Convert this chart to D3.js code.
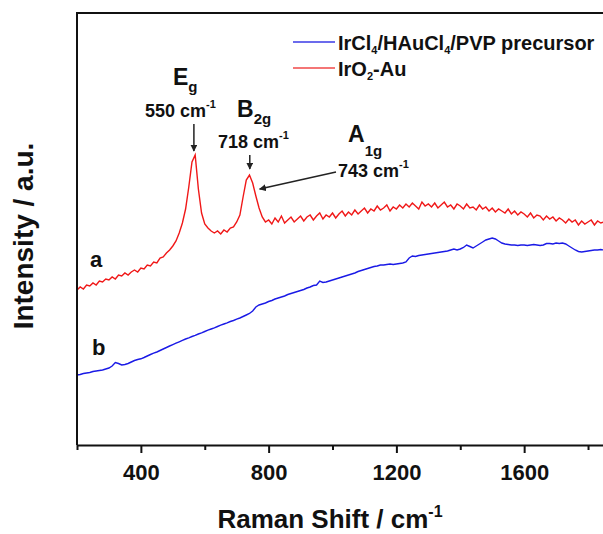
<!DOCTYPE html>
<html>
<head>
<meta charset="utf-8">
<script src="https://cdn.jsdelivr.net/npm/d3@7"></script>
<style>
  body { margin: 0; background: #fff; }
  svg { display: block; }
  text { font-family: "Liberation Sans", Arial, sans-serif; font-weight: bold; fill: #111; }
</style>
</head>
<body>
<div id="chart"></div>
<script>
const ramanShift = d3.range(200, 1851, 10);

// curve a : IrO2-Au
const intensityIrO2Au = [
  1550,1580,1560,1600,1590,1620,1600,1640,1630,1660,   // 200-290
  1650,1680,1660,1700,1690,1720,1700,1730,1750,1730,   // 300-390
  1770,1760,1800,1790,1830,1820,1870,1880,1920,1950,   // 400-490
  1990,2040,2120,2220,2360,2580,2830,2900,2560,2320,   // 500-590
  2210,2170,2140,2120,2140,2110,2150,2130,2170,2180,   // 600-690
  2230,2300,2480,2650,2700,2620,2490,2370,2280,2230,   // 700-790
  2250,2210,2270,2230,2290,2220,2250,2280,2230,2260,   // 800-890
  2290,2240,2280,2300,2250,2290,2320,2260,2300,2280,   // 900-990
  2320,2270,2310,2340,2290,2330,2300,2350,2310,2340,   // 1000-1090
  2370,2320,2360,2340,2390,2350,2370,2400,2340,2380,   // 1100-1190
  2360,2400,2370,2410,2380,2420,2390,2360,2430,2390,   // 1200-1290
  2410,2380,2420,2370,2400,2430,2380,2400,2360,2410,   // 1300-1390
  2390,2360,2410,2370,2380,2350,2400,2360,2380,2340,   // 1400-1490
  2370,2330,2360,2340,2320,2360,2310,2340,2300,2330,   // 1500-1590
  2310,2280,2320,2270,2300,2290,2250,2290,2260,2280,   // 1600-1690
  2240,2270,2250,2220,2260,2230,2250,2200,2240,2210,   // 1700-1790
  2230,2250,2200,2240,2220,2230                        // 1800-1850
];

// curve b : IrCl4/HAuCl4/PVP precursor
const intensityPrecursor = [
  700,705,715,720,725,735,740,745,750,760,             // 200-290
  770,790,825,815,800,805,815,830,845,855,             // 300-390
  862,875,890,905,918,930,945,960,975,990,             // 400-490
  1004,1018,1032,1046,1060,1072,1085,1097,1110,1122,   // 500-590
  1135,1148,1160,1172,1185,1198,1210,1222,1235,1245,   // 600-690
  1258,1270,1285,1300,1315,1340,1380,1400,1410,1420,   // 700-790
  1435,1445,1460,1470,1480,1490,1505,1515,1525,1535,   // 800-890
  1545,1555,1570,1580,1595,1600,1640,1625,1630,1640,   // 900-990
  1650,1660,1670,1680,1690,1700,1710,1720,1735,1745,   // 1000-1090
  1755,1765,1775,1785,1790,1800,1800,1805,1810,1805,   // 1100-1190
  1810,1815,1820,1830,1870,1890,1885,1895,1900,1905,   // 1200-1290
  1910,1915,1920,1925,1930,1935,1940,1950,1960,1950,   // 1300-1390
  1960,1975,2000,1985,1970,1990,2010,2030,2050,2060,   // 1400-1490
  2070,2060,2040,2020,2010,2005,2000,2000,1995,2000,   // 1500-1590
  2000,1995,2000,2005,2000,1995,2000,2015,2015,2010,   // 1600-1690
  2020,2015,2020,2010,1990,1970,1950,1935,1930,1935,   // 1700-1790
  1940,1945,1950,1950,1955,1950                        // 1800-1850
];

const xMajorTicks = [400, 800, 1200, 1600];
const xMinorTicks = [200, 600, 1000, 1400, 1800];

// peak positions as they sit in the figure
const peakShift = [566, 741, 775];

const width = 603, height = 534;
const plot = { left: 77, top: 13, right: 604, bottom: 445 };

const x = d3.scaleLinear().domain([200, 1850]).range([plot.left, plot.right]);
const y = d3.scaleLinear().domain([0, 4320]).range([plot.bottom, plot.top]);

const svg = d3.select("#chart").append("svg")
    .attr("width", width)
    .attr("height", height);

svg.append("defs").append("clipPath").attr("id", "clip")
  .append("rect")
    .attr("x", plot.left).attr("y", plot.top)
    .attr("width", plot.right - plot.left).attr("height", plot.bottom - plot.top);

svg.append("defs").append("marker")
    .attr("id", "head")
    .attr("viewBox", "0 0 10 10")
    .attr("refX", 9).attr("refY", 5)
    .attr("markerWidth", 7).attr("markerHeight", 7)
    .attr("markerUnits", "userSpaceOnUse")
    .attr("orient", "auto")
  .append("path")
    .attr("d", "M0,0L10,5L0,10Z")
    .attr("fill", "#222");

// spectra
const line = d3.line()
    .x((d, i) => x(ramanShift[i]))
    .y(d => y(d));

const lines = svg.append("g").attr("clip-path", "url(#clip)");

lines.append("path")
    .attr("d", line(intensityPrecursor))
    .attr("fill", "none")
    .attr("stroke", "#1a1ae6")
    .attr("stroke-width", 1.4);

lines.append("path")
    .attr("d", line(intensityIrO2Au))
    .attr("fill", "none")
    .attr("stroke", "#f01818")
    .attr("stroke-width", 1.4);

// frame: left and top edges
svg.append("path")
    .attr("d", `M${plot.left},${plot.bottom}V${plot.top}H${width}`)
    .attr("fill", "none")
    .attr("stroke", "#111")
    .attr("stroke-width", 2);

// x axis
const axis = svg.append("g").attr("transform", `translate(0,${plot.bottom})`);

axis.call(d3.axisBottom(x).tickValues(xMinorTicks).tickSize(5).tickSizeOuter(0).tickFormat(""))
  .call(g => g.selectAll("line").attr("stroke", "#111").attr("stroke-width", 2));
axis.select(".domain").remove();

const major = svg.append("g").attr("transform", `translate(0,${plot.bottom})`)
    .call(d3.axisBottom(x).tickValues(xMajorTicks).tickFormat(d3.format("d"))
      .tickSize(8).tickSizeOuter(0).tickPadding(11));
major.select(".domain").attr("stroke", "#111").attr("stroke-width", 2);
major.selectAll("line").attr("stroke", "#111").attr("stroke-width", 2);
major.selectAll("text")
    .attr("fill", "#111")
    .style("font-family", '"Liberation Sans", Arial, sans-serif')
    .style("font-weight", "bold")
    .style("font-size", "22px");

// rich text helper: parts = [[text, "n"|"sub"|"sup"], ...]
function richText(parent, px, py, size, parts, opt = {}) {
  const subSize = opt.subSize || size * 0.62;
  const subOff = opt.subOff != null ? opt.subOff : size * 0.3;
  const supOff = opt.supOff != null ? opt.supOff : -size * 0.5;
  const t = parent.append("text")
      .attr("x", px).attr("y", py)
      .attr("text-anchor", opt.anchor || "start")
      .style("font-size", size + "px");
  let prev = 0;
  parts.forEach(([s, kind]) => {
    const off = kind === "sub" ? subOff : kind === "sup" ? supOff : 0;
    t.append("tspan")
        .attr("dy", off - prev)
        .style("font-size", (kind === "n" ? size : subSize) + "px")
        .text(s);
    prev = off;
  });
  return t;
}

// axis titles
richText(svg, 330, 528, 26, [["Raman Shift / cm", "n"], ["-1", "sup"]],
  { anchor: "middle", subSize: 16, supOff: -11 });

svg.append("text")
    .attr("transform", "rotate(-90)")
    .attr("x", -236).attr("y", 33)
    .attr("text-anchor", "middle")
    .style("font-size", "28px")
    .text("Intensity / a.u.");

// legend
const legend = svg.append("g");
const legendItems = [
  { color: "#3a3ae6", parts: [["IrCl", "n"], ["4", "sub"], ["/HAuCl", "n"], ["4", "sub"], ["/PVP precursor", "n"]] },
  { color: "#f04848", parts: [["IrO", "n"], ["2", "sub"], ["-Au", "n"]] }
];
legendItems.forEach((d, i) => {
  const cy = 42 + i * 26;
  legend.append("line")
      .attr("x1", 293).attr("x2", 335)
      .attr("y1", cy).attr("y2", cy)
      .attr("stroke", d.color).attr("stroke-width", 1.5);
  richText(legend, 338, cy + 8, 20, d.parts, { subSize: 11, subOff: 4 });
});

// curve labels
svg.append("text").attr("x", 90).attr("y", 267).style("font-size", "22px").text("a");
svg.append("text").attr("x", 92).attr("y", 355).style("font-size", "22px").text("b");

// peak annotations
const ann = svg.append("g");
richText(ann, 173, 85, 23, [["E", "n"], ["g", "sub"]], { subSize: 15, subOff: 7 });
richText(ann, 145, 117, 18, [["550 cm", "n"], ["-1", "sup"]], { subSize: 11, supOff: -9 });
richText(ann, 237, 117, 23, [["B", "n"], ["2g", "sub"]], { subSize: 15, subOff: 7 });
richText(ann, 218, 148, 18, [["718 cm", "n"], ["-1", "sup"]], { subSize: 11, supOff: -9 });
richText(ann, 348, 142, 23, [["A", "n"], ["1g", "sub"]], { subSize: 15, subOff: 14 });
richText(ann, 338, 177, 18, [["743 cm", "n"], ["-1", "sup"]], { subSize: 11, supOff: -9 });

const arrows = [
  { x1: x(peakShift[0]), y1: 124, x2: x(peakShift[0]), y2: 151 },
  { x1: x(peakShift[1]), y1: 155, x2: x(peakShift[1]), y2: 169 },
  { x1: 336, y1: 172, x2: x(peakShift[2]) - 1, y2: 189 }
];
ann.selectAll("line.arrow")
  .data(arrows)
  .join("line")
    .attr("class", "arrow")
    .attr("x1", d => d.x1).attr("y1", d => d.y1)
    .attr("x2", d => d.x2).attr("y2", d => d.y2)
    .attr("stroke", "#222")
    .attr("stroke-width", 1.5)
    .attr("marker-end", "url(#head)");
</script>
</body>
</html>
